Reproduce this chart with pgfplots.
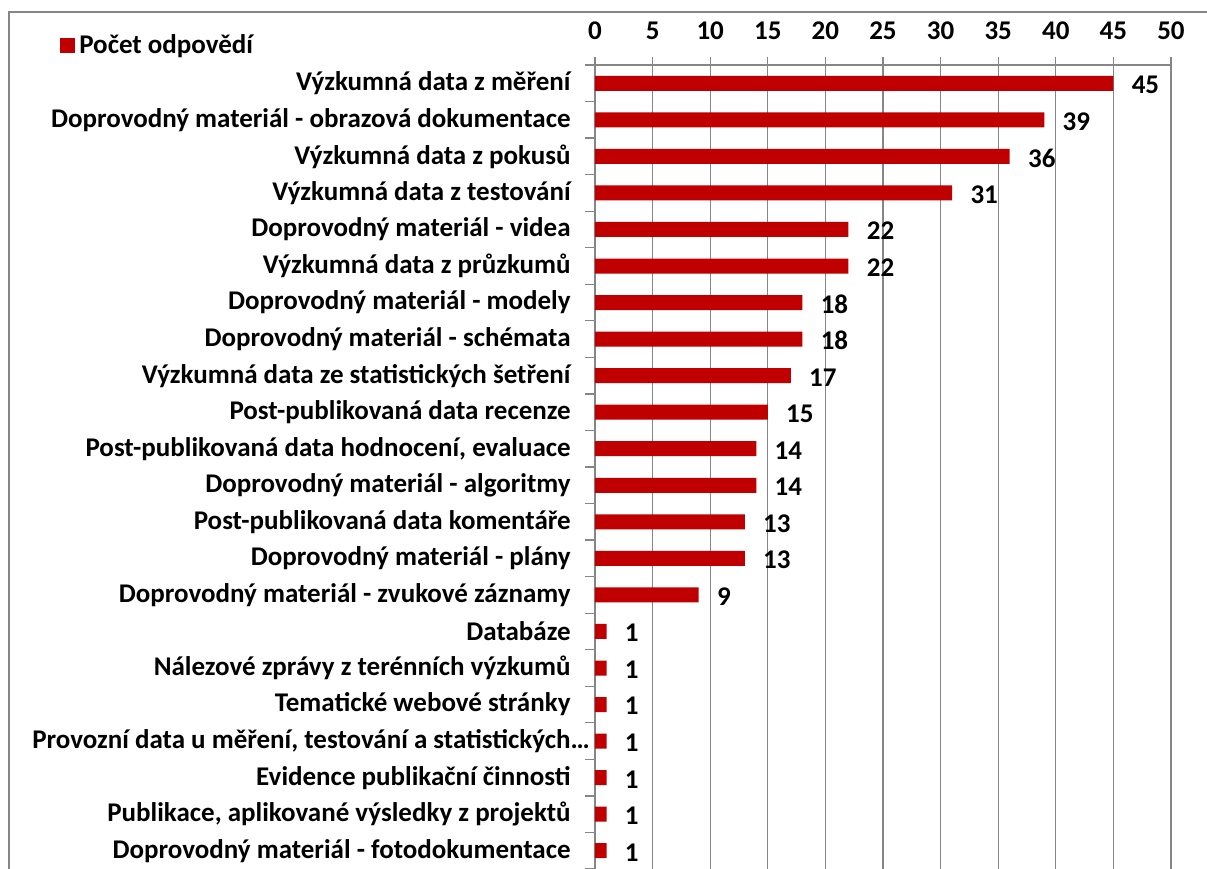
\documentclass[border=0pt]{standalone}
\usepackage{fontspec}
\setmainfont{Carlito}
\usepackage{pgfplots}
\pgfplotsset{compat=1.18}
\definecolor{barred}{HTML}{C00000}
\definecolor{gridgray}{HTML}{868686}
\newcommand{\ff}{\fontsize{13.5}{16}\selectfont\bfseries}
\begin{document}
\ff
\begin{tikzpicture}[x=1pt,y=1pt]
\useasboundingbox (0,0) rectangle (603.5,434.5);
\draw[gridgray, line width=1pt] (4.5,0) -- (4.5,428.5) -- (603.5,428.5);
\begin{axis}[
  at={(297.5pt,0pt)}, anchor=south west,
  scale only axis, width=288pt, height=402pt,
  xbar, bar width=7.5pt,
  xmin=0, xmax=50, xtick={0,5,...,50},
  ymin=-0.5, ymax=21.5, y dir=reverse,
  ytick={0,...,21},
  minor ytick={-0.5,0.5,...,21.5},
  axis x line*=top, axis y line*=left,
  xticklabel pos=top,
  xmajorgrids, major grid style={gridgray, line width=0.6pt},
  axis line style={gridgray, line width=0.6pt},
  tick style={gridgray, line width=0.6pt},
  tick align=outside,
  major tick length=4pt,
  minor tick length=5pt,
  major y tick style={draw=none},
  minor y tick style={draw=gridgray},
  /pgf/number format/assume math mode=true,
  tick label style={font=\ff, text=black},
  xticklabel style={yshift=4pt},
  yticklabel style={xshift=-3.5pt},
  yticklabels={
    {Výzkumná data z měření},
    {Doprovodný materiál - obrazová dokumentace},
    {Výzkumná data z pokusů},
    {Výzkumná data z testování},
    {Doprovodný materiál - videa},
    {Výzkumná data z průzkumů},
    {Doprovodný materiál - modely},
    {Doprovodný materiál - schémata},
    {Výzkumná data ze statistických šetření},
    {Post-publikovaná data recenze},
    {Post-publikovaná data hodnocení, evaluace},
    {Doprovodný materiál - algoritmy},
    {Post-publikovaná data komentáře},
    {Doprovodný materiál - plány},
    {Doprovodný materiál - zvukové záznamy},
    {Databáze},
    {Nálezové zprávy z terénních výzkumů},
    {Tematické webové stránky},
    {Provozní data u měření, testování a statistických\rlap{…}},
    {Evidence publikační činnosti},
    {Publikace, aplikované výsledky z projektů},
    {Doprovodný materiál - fotodokumentace}},
  nodes near coords,
  nodes near coords style={font=\ff, text=black, anchor=west, xshift=4.5pt, yshift=-0.8pt},
  legend style={at={(rel axis cs:-0.929,1.024)}, anchor=west, draw=none, fill=none,
    font=\ff, inner sep=0pt, nodes={inner sep=2pt}},
  legend image code/.code={\fill[barred] (0pt,-3.5pt) rectangle (7.5pt,3.75pt);},
  clip=false,
]
\addplot[fill=barred, draw=none] coordinates {
 (45,0) (39,1) (36,2) (31,3) (22,4) (22,5) (18,6) (18,7) (17,8) (15,9) (14,10)
 (14,11) (13,12) (13,13) (9,14) (1,15) (1,16) (1,17) (1,18) (1,19) (1,20) (1,21)
};
\addlegendentry{Počet odpovědí}
\end{axis}
\end{tikzpicture}
\end{document}
